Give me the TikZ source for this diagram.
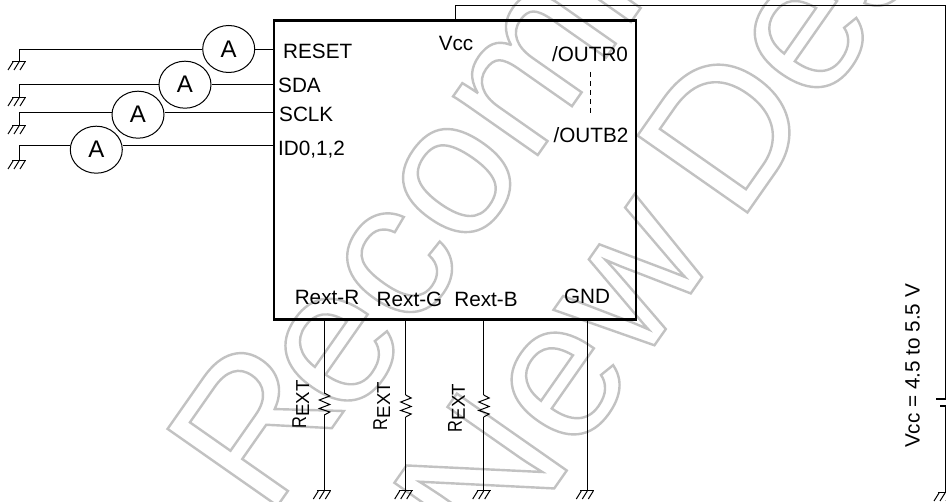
\documentclass[tikz,border=0pt]{standalone}
\usepackage{fontspec}
\setmainfont{Liberation Sans}
\usetikzlibrary{positioning,calc,shapes.geometric}
\tikzset{
ammeter/.style={draw,ellipse,fill=white,minimum width=52pt,minimum height=47pt,inner sep=0pt,line width=1pt,font=\fontsize{24}{26}\selectfont},
pinlabel/.style={inner sep=0pt,font=\fontsize{20.7}{22}\selectfont},
wire/.style={line width=1pt},
watermark/.style={inner sep=0pt,rotate=55,anchor=base west,font=\fontsize{195}{195}\selectfont},
gnd/.pic={
 \draw[wire] (-7,0) -- (7,0);
 \foreach \i in {-6,0,6}
  \draw[wire] (\i,0) -- ++(-5,8);
},
rzig/.pic={
 \draw[wire] (0,0) -- (5.5,3) -- (-5,7) -- (5.5,11.5) -- (-5,15.5) -- (5.5,19) -- (0,22);
}
}
\newcommand{\outl}[1]{\special{pdf:code q 1 Tr 2.4 w 0.76 0.76 0.76 RG}#1\special{pdf:code Q}}
\newcommand{\rext}{\fontsize{20}{20}\selectfont\scalebox{.82}[1]{R}\raisebox{-3pt}{\fontsize{18.7}{20}\selectfont EXT}}
\begin{document}
\begin{tikzpicture}[x=1pt,y=-1pt]
\useasboundingbox (0,0) rectangle (946,502);
\clip (0,0) rectangle (946,502);
%%% watermark
\node[watermark] (markA) at (278,526) {\outl{\raisebox{12pt}{R}\kern-16pt ecommended}};
\node[watermark] (markB) at (495,573) {\outl{New\kern34pt Designs}};
%%% ic box
\node[draw,line width=2.5pt,minimum width=362pt,minimum height=299pt,inner sep=0pt] (chip) at (455,170) {};
%%% pins left
\node[pinlabel,anchor=west] (reset) at (283,51) {RESET};
\node[pinlabel,anchor=west] (sda) at (278,85) {SDA};
\node[pinlabel,anchor=west] (sclk) at (279,114) {SCLK};
\node[pinlabel,anchor=west] (id) at (278,150) {ID0,1,2};
\node[pinlabel] (vccpin) at (456,43) {Vcc};
\node[pinlabel] (outr) at (590,54) {/OUTR0};
\node[pinlabel] (outb) at (591,135) {/OUTB2};
\coordinate (dashtop) at (590.5,72);
\coordinate (dashbot) at (590.5,115);
\draw[wire,dash pattern=on 5pt off 4pt] (dashtop) -- (dashbot);
%%% pins bottom
\node[pinlabel] (rr) at (327,297) {Rext-R};
\node[pinlabel] (rg) at (409.5,299) {Rext-G};
\node[pinlabel] (rb) at (486,299) {Rext-B};
\node[pinlabel] (gnd0) at (587,296) {GND};
%%% ammeters
\coordinate (g1) at (19,50);
\coordinate (g2) at (19,85);
\coordinate (g3) at (19,113);
\coordinate (g4) at (19,146);
\node[ammeter] (am1) at (228.7,49) {A};
\node[ammeter] (am2) at (185,84.7) {A};
\node[ammeter] (am3) at (138,114.7) {A};
\node[ammeter] (am4) at (96.3,149.7) {A};
\foreach \i/\b in {1/12,2/13,3/13,4/15}
{
 \draw[wire] (g\i) -- (am\i.west |- g\i);
 \draw[wire] (am\i.east |- g\i) -- (chip.west |- g\i);
 \draw[wire] (g\i) -- ++(0,\b) pic {gnd};
}
%%% rext legs
\foreach \n/\x/\t/\lx/\ly in {R/324.3/393/300.8/404.5,G/405.7/395/381.7/406,B/483.7/395/456.5/408}
{
 \coordinate (zigtop\n) at (\x,\t);
 \coordinate (zigbot\n) at (\x,\t+22);
 \coordinate (gr\n) at (\x,491);
 \draw[wire] (chip.south -| zigtop\n) -- (zigtop\n);
 \path (zigtop\n) pic {rzig};
 \draw[wire] (zigbot\n) -- (gr\n) pic {gnd};
 \node[pinlabel,rotate=90] (lab\n) at (\lx,\ly) {\rext};
}
\coordinate (gr0) at (587.3,491);
\draw[wire] (chip.south -| gr0) -- (gr0) pic {gnd};
%%% supply
\coordinate (vcc0) at (455,6);
\coordinate (vcc1) at (945,6);
\coordinate (bat0) at (945,399.5);
\coordinate (bat1) at (945,406);
\coordinate (gr1) at (945,493);
\draw[wire] (chip.north -| vcc0) -- (vcc0) -- (vcc1) -- (bat0);
\draw[line width=2pt] ($(bat0)+(-9,0)$) -- ($(bat0)+(1,0)$);
\draw[line width=2pt] ($(bat1)+(-5,0)$) -- ($(bat1)+(1,0)$);
\draw[wire] (bat1) -- (gr1) pic {gnd};
\node[pinlabel,rotate=90] (vccval) at (912.5,366) {Vcc = 4.5 to 5.5 V};
\end{tikzpicture}
\end{document}
